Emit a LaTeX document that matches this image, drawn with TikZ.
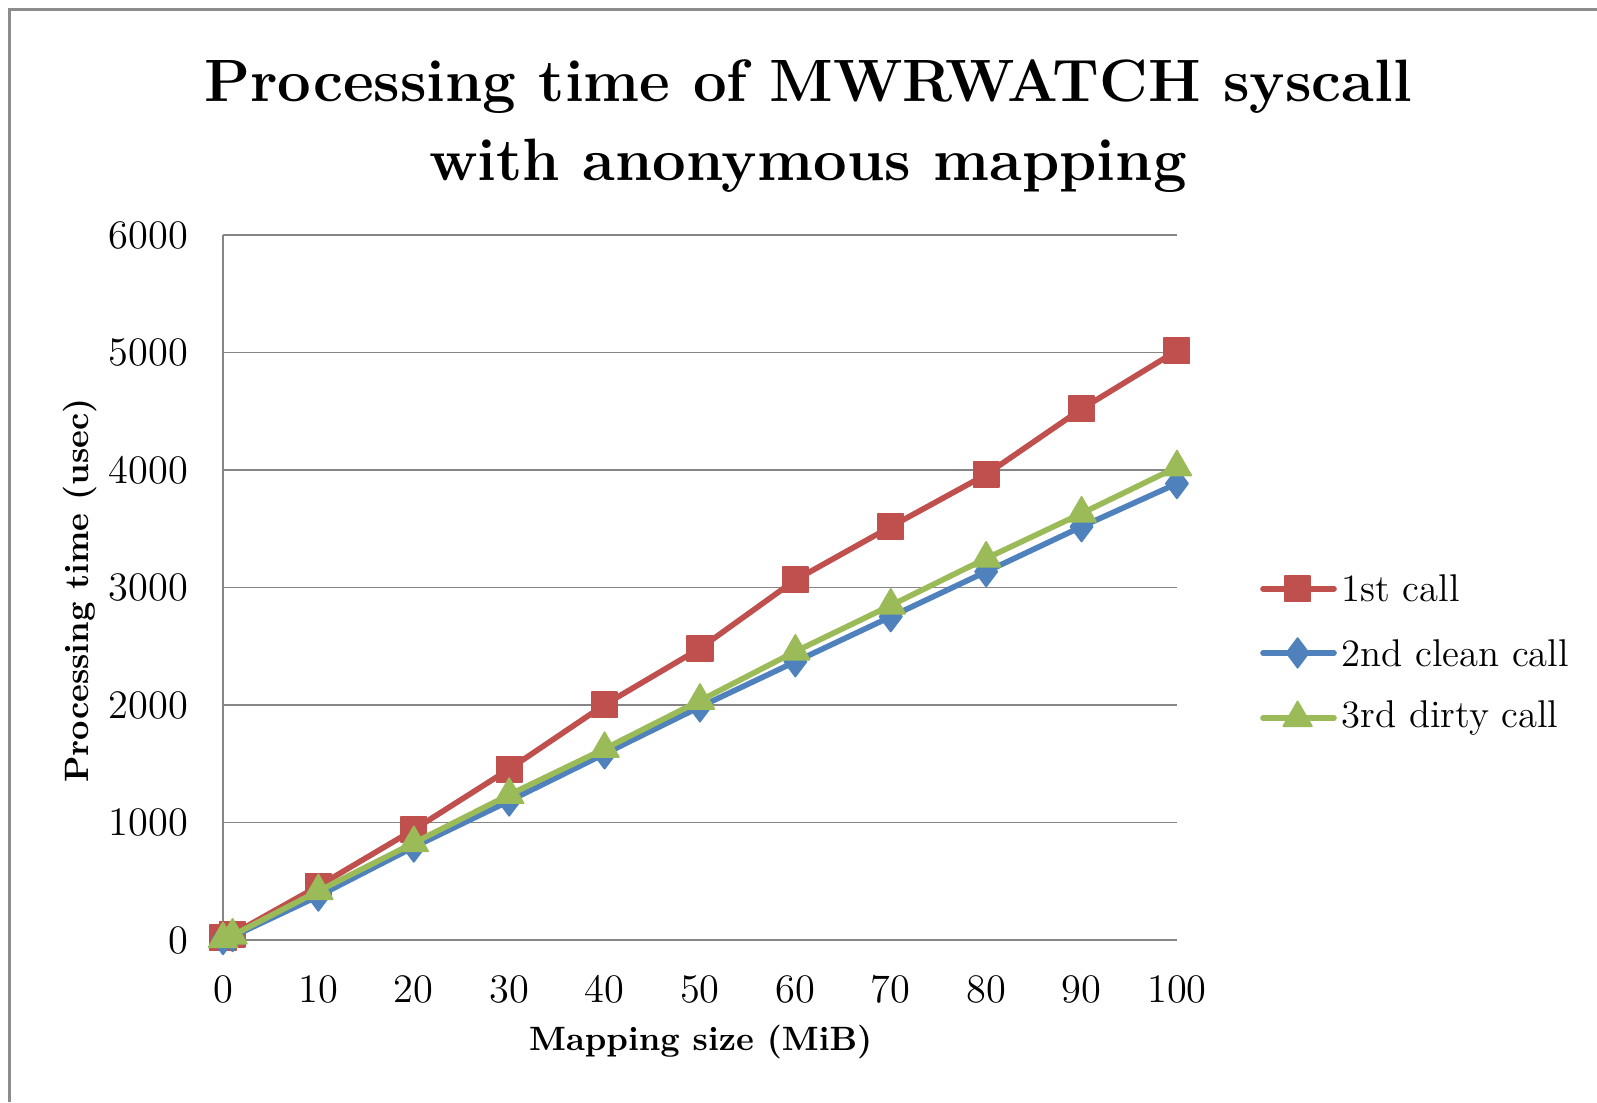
\documentclass[tikz,border=0pt]{standalone}
\usepackage{tikz}
\usetikzlibrary{plotmarks}
\definecolor{callred}{HTML}{C0504D}
\definecolor{callblue}{HTML}{4F81BD}
\definecolor{callgreen}{HTML}{9BBB59}
\definecolor{gridgray}{HTML}{868686}
\definecolor{framegray}{HTML}{8C8C8C}
\tikzset{
	series/.style={line width=1.6pt, line join=round, line cap=round},
	sqmark/.style={mark=square*, mark size=3.6pt, mark options={line width=0.5pt}},
	dimark/.style={mark=diamond*, mark size=4.2pt, mark options={line width=0.5pt}},
	trmark/.style={mark=triangle*, mark size=4.7pt, mark options={line width=0.5pt}},
	gridline/.style={gridgray, line width=0.5pt},
	ticklabel/.style={font=\fontsize{11.5}{13}\selectfont, inner sep=0pt},
	axistitle/.style={font=\fontsize{9.6}{12}\selectfont\bfseries, inner sep=0pt},
	titletext/.style={font=\fontsize{17}{20}\selectfont\bfseries, inner sep=0pt, anchor=base},
	legendtext/.style={font=\fontsize{11}{13}\selectfont, inner sep=0pt, anchor=west}
}

\begin{document}
\begin{tikzpicture}[x=0.01cm, y=-0.01cm]
				\useasboundingbox (0,0) rectangle (1597,1102);
				% outer frame (only top and left are visible)
				\draw[framegray, line width=0.85pt] (9.5,1102)--(9.5,9.5)--(1597,9.5);
				% title
				\node[titletext] (titleA) at (808,101.9) {Processing time of MWRWATCH syscall};
				\node[titletext] (titleB) at (808,180.3) {with anonymous mapping};
				% plot area
				\begin{scope}[shift={(223,940.1)}, x=0.09534cm, y=0.0011697cm]
					\draw[gridline] (0,1000)--(100,1000);
					\draw[gridline] (0,2000)--(100,2000);
					\draw[gridline] (0,3000)--(100,3000);
					\draw[gridline] (0,4000)--(100,4000);
					\draw[gridline] (0,5000)--(100,5000);
					\draw[gridline] (0,6000)--(100,6000);
					\draw[gridline] (0,6000)--(0,0)--(100,0);
					\foreach \v in {0,1000,...,6000}
						\node[ticklabel, anchor=east] (ylab\v) at (-3.6,\v) {\v};
					\foreach \u in {0,10,...,100}
						\node[ticklabel] (xlab\u) at (\u,-417) {\u};
					% series
					\draw[series, callred, sqmark] plot coordinates {(0,20) (1,50) (10,460) (20,940) (30,1455) (40,2003) (50,2482) (60,3065) (70,3518) (80,3962) (90,4520) (100,5016)};
					\draw[series, callblue, dimark] plot coordinates {(0,5) (1,30) (10,375) (20,792) (30,1184) (40,1585) (50,1985) (60,2369) (70,2752) (80,3135) (90,3518) (100,3885)};
					\draw[series, callgreen, trmark] plot coordinates {(0,10) (1,40) (10,418) (20,827) (30,1237) (40,1628) (50,2038) (60,2456) (70,2848) (80,3248) (90,3631) (100,4025)};
				\end{scope}
				% axis titles
				\node[axistitle] (xtitle) at (700.7,1042) {Mapping size (MiB)};
				\node[axistitle, rotate=90] (ytitle) at (80,590.7) {Processing time (usec)};
				% legend
				\draw[series, callred, sqmark, mark indices={2}] plot coordinates {(1263,588.7) (1297.6,588.7) (1334,588.7)};
				\draw[series, callblue, dimark, mark indices={2}] plot coordinates {(1263,652.9) (1297.6,652.9) (1334,652.9)};
				\draw[series, callgreen, trmark, mark indices={2}] plot coordinates {(1263,718) (1297.6,718) (1334,718)};
				\node[legendtext] (legA) at (1341,588.7) {1st call};
				\node[legendtext] (legB) at (1341,652.9) {2nd clean call};
				\node[legendtext] (legC) at (1341,718) {3rd dirty call};
			\end{tikzpicture}
\end{document}
